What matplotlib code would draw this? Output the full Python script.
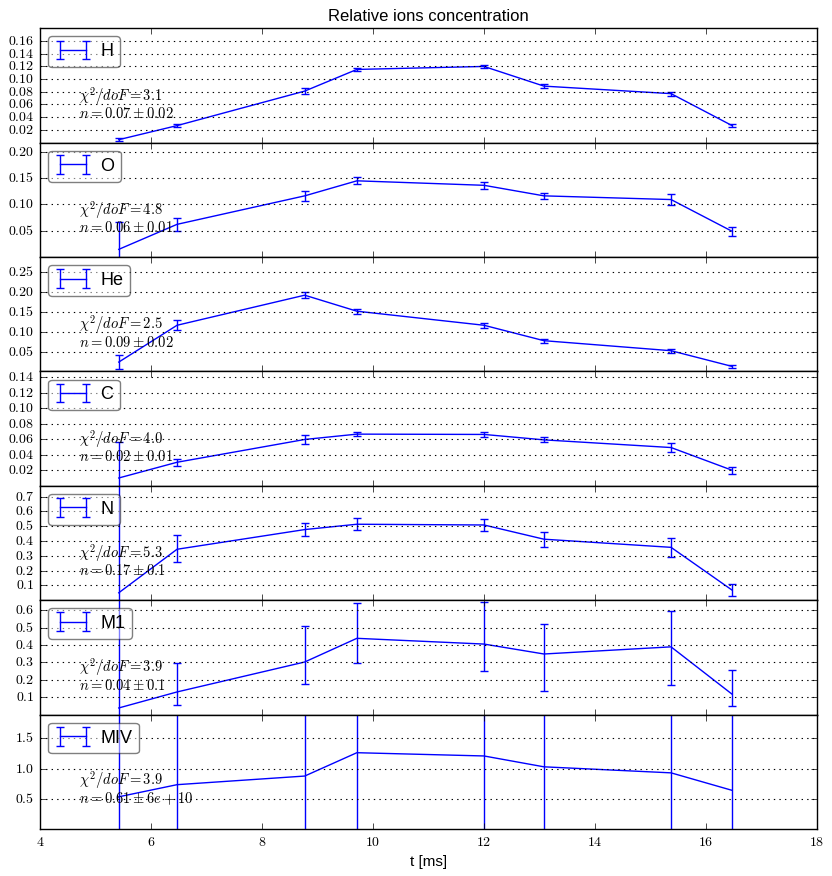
import numpy as np
import matplotlib
matplotlib.use('Agg')
import matplotlib.pyplot as plt
from matplotlib.ticker import MaxNLocator, FuncFormatter, MultipleLocator
from matplotlib.legend_handler import HandlerErrorbar
from matplotlib.container import ErrorbarContainer

plt.style.use('classic')
plt.rcParams['mathtext.fontset'] = 'cm'

# ---------------- data ----------------
t_ms = [5.42, 6.47, 8.77, 9.71, 12.0, 13.08, 15.37, 16.47]
species = ['H', 'O', 'He', 'C', 'N', 'M1', 'MIV']

H_y = [0.0047, 0.0268, 0.081, 0.115, 0.1197, 0.0888, 0.077, 0.0268]
H_lo = [0.002, 0.002, 0.005, 0.003, 0.002, 0.003, 0.003, 0.002]
H_hi = [0.002, 0.002, 0.005, 0.003, 0.002, 0.003, 0.003, 0.002]

O_y = [0.0146, 0.062, 0.116, 0.1445, 0.136, 0.116, 0.109, 0.0488]
O_lo = [0.052, 0.0127, 0.0095, 0.0063, 0.0067, 0.0054, 0.010, 0.0082]
O_hi = [0.052, 0.0127, 0.0095, 0.0063, 0.0067, 0.0054, 0.010, 0.0082]

He_y = [0.0236, 0.1165, 0.1924, 0.152, 0.1165, 0.0776, 0.0523, 0.0127]
He_lo = [0.0177, 0.0122, 0.0076, 0.0063, 0.0067, 0.005, 0.005, 0.004]
He_hi = [0.0177, 0.0122, 0.0076, 0.0063, 0.0067, 0.005, 0.005, 0.004]

C_y = [0.0101, 0.0304, 0.0598, 0.0667, 0.0663, 0.0593, 0.0494, 0.0201]
C_lo = [0.0466, 0.0043, 0.0052, 0.003, 0.0035, 0.0032, 0.0063, 0.0043]
C_hi = [0.0466, 0.0043, 0.0052, 0.003, 0.0035, 0.0032, 0.0063, 0.0043]

N_y = [0.050, 0.344, 0.477, 0.513, 0.508, 0.412, 0.357, 0.068]
N_lo = [10.0, 0.086, 0.046, 0.041, 0.042, 0.051, 0.063, 0.041]
N_hi = [10.0, 0.095, 0.046, 0.041, 0.042, 0.051, 0.063, 0.041]

M1_y = [0.038, 0.130, 0.302, 0.438, 0.405, 0.348, 0.389, 0.117]
M1_lo = [10.0, 0.076, 0.129, 0.144, 0.155, 0.21, 0.22, 0.069]
M1_hi = [10.0, 0.168, 0.209, 0.202, 0.24, 0.172, 0.207, 0.139]

MIV_y = [0.533, 0.734, 0.877, 1.264, 1.21, 1.03, 0.93, 0.64]
MIV_lo = [10.0, 10.0, 10.0, 10.0, 10.0, 10.0, 10.0, 10.0]
MIV_hi = [10.0, 10.0, 10.0, 10.0, 10.0, 10.0, 10.0, 10.0]

chi2_dof = ['3.1', '4.8', '2.5', '4.0', '5.3', '3.9', '3.9']
n_fit = ['0.07 \\pm 0.02', '0.06 \\pm 0.01', '0.09 \\pm 0.02', '0.02 \\pm 0.01',
         '0.17 \\pm 0.1', '0.04 \\pm 0.1', '0.61 \\pm 6e+10']
y_top = [0.1796, 0.2168, 0.2886, 0.1476, 0.7725, 0.657, 1.896]

series_y = [H_y, O_y, He_y, C_y, N_y, M1_y, MIV_y]
series_lo = [H_lo, O_lo, He_lo, C_lo, N_lo, M1_lo, MIV_lo]
series_hi = [H_hi, O_hi, He_hi, C_hi, N_hi, M1_hi, MIV_hi]

# ---------------- figure ----------------
fig = plt.figure(figsize=(8.32, 8.76), dpi=100, facecolor='white')
n = len(species)
left, right, top, bottom = 0.048, 0.982, 0.9677, 0.0537
h = (top - bottom) / n


def make_fmt(axis):
    def f(v, pos):
        locs = axis.get_majorticklocs()
        if len(locs) > 1:
            step = abs(locs[1] - locs[0])
            dec = int(max(0, -np.floor(np.log10(step) + 1e-9)))
        else:
            dec = 1
        return r'$%.*f$' % (dec, v)
    return FuncFormatter(f)


axes = []
for i, name in enumerate(species):
    ax = fig.add_axes([left, top - (i + 1) * h, right - left, h],
                      sharex=axes[0] if axes else None)
    axes.append(ax)
    ax.errorbar(t_ms, series_y[i], yerr=[series_lo[i], series_hi[i]],
                color='b', ecolor='b', linestyle='-', linewidth=1.0,
                capsize=2.6, elinewidth=1.0, markeredgewidth=1.0, label=name)
    ax.set_ylim(0, y_top[i])
    ax.set_xlim(4, 18)
    ax.yaxis.set_major_locator(MaxNLocator(nbins=9, steps=[1, 2, 5, 10], prune='lower'))
    ax.yaxis.set_major_formatter(make_fmt(ax.yaxis))
    ax.xaxis.set_major_locator(MultipleLocator(2))
    ax.yaxis.grid(True, linestyle=':', color='k', linewidth=0.8)
    ax.xaxis.grid(False)
    ax.tick_params(labelsize=10, direction='in', top=True, right=True)
    ax.legend(loc='upper left', fancybox=True, framealpha=0.5,
              numpoints=2, prop={'family': 'Liberation Sans', 'size': 13},
              handlelength=2.0, handletextpad=0.5, borderaxespad=0.45,
              borderpad=0.38,
              handler_map={ErrorbarContainer: HandlerErrorbar(xerr_size=0.5, yerr_size=0.52)})
    ax.text(0.05, 0.19,
            '$\\chi^2/doF = %s$\n$n = %s$' % (chi2_dof[i], n_fit[i]),
            transform=ax.transAxes, fontsize=10.5, va='bottom', ha='left',
            linespacing=0.95)
    if i < n - 1:
        plt.setp(ax.get_xticklabels(), visible=False)
    else:
        ax.xaxis.set_major_formatter(FuncFormatter(lambda v, p: r'$%d$' % v))
        ax.set_xlabel('t [ms]', family='Liberation Sans', fontsize=11)

axes[0].set_title('Relative ions concentration', family='Liberation Sans', fontsize=12)

fig.savefig('out.png', dpi=100, facecolor='white')
